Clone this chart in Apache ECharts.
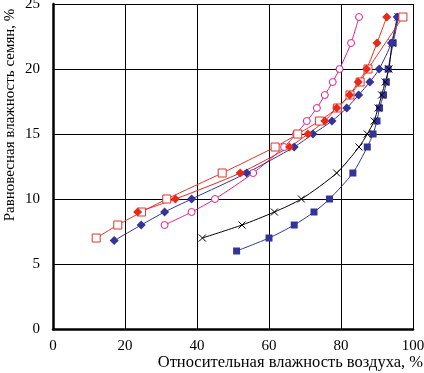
<!DOCTYPE html>
<html>
<head>
<meta charset="utf-8">
<script src="https://cdn.jsdelivr.net/npm/echarts@6/dist/echarts.min.js"></script>
<style>
  html, body { margin: 0; padding: 0; background: #fff; }
  #chart { width: 424px; height: 373px; }
</style>
</head>
<body>
<div id="chart"></div>
<script>
// значения
var redSqX = [12, 18, 24.6, 31.6, 47, 61.7, 68, 74, 79, 82.5, 85.3, 87.5, 97.2]
var redSqY = [7, 8, 9, 10, 12, 14, 15, 16, 17, 18, 19, 20, 24]
var redDiaX = [23.5, 34, 52, 65.7, 70.8, 75.5, 78.8, 82.4, 84.8, 87.1, 90, 92.7]
var redDiaY = [9, 10, 12, 14, 15, 16, 17, 18, 19, 20, 22, 24]
var blueDiaX = [17, 24.5, 31, 38.5, 53.8, 67, 72.2, 77.5, 81.6, 84.9, 88, 90.6, 94, 95.6]
var blueDiaY = [6.8, 8, 9, 10, 12, 14, 15, 16, 17, 18, 19, 20, 22, 24]
var magCircX = [31, 38.5, 45, 55.6, 64.2, 67.5, 70.5, 73.3, 75.5, 77.7, 79.6, 82.8, 85]
var magCircY = [8, 9, 10, 12, 14, 15, 16, 17, 18, 19, 20, 22, 24]
var blackXX = [41.5, 52.5, 61.5, 69, 78.8, 85, 87.3, 89.2, 90.3, 91.3, 92.3, 93.3, 94.2, 95.8]
var blackXY = [7, 8, 9, 10, 12, 14, 15, 16, 17, 18, 19, 20, 22, 24]
var blueSqX = [51, 60, 67, 72.5, 76.8, 83.3, 87.3, 88.9, 90, 90.7, 91.8, 92.6, 93.1, 94.5, 96]
var blueSqY = [6, 7, 8, 9, 10, 12, 14, 15, 16, 17, 18, 19, 20, 22, 24]

var xTicks = [0, 20, 40, 60, 80, 100]
var yTicks = [0, 5, 10, 15, 20, 25]
var xTitle = 'Относительная влажность воздуха, %'
var yTitle = 'Равновесная влажность семян, %'

var FONT = 'Times New Roman, Liberation Serif, DejaVu Serif, serif'

function pairs(xs, ys) {
  return xs.map(function (x, i) { return [x, ys[i]] })
}

function line(name, xs, ys, color, symbol, size, filled) {
  return {
    name: name,
    type: 'line',
    smooth: 0.25,
    symbol: symbol,
    symbolSize: size,
    showAllSymbol: true,
    lineStyle: { width: 1, color: color },
    itemStyle: {
      color: filled ? color : '#fff',
      borderColor: color,
      borderWidth: filled ? 0 : 1,
    },
    data: pairs(xs, ys),
  }
}

var chart = echarts.init(document.getElementById('chart'))
chart.setOption({
  backgroundColor: '#fff',
  animation: false,
  grid: { left: 53, right: 11, top: 4, bottom: 44, outerBoundsMode: 'none', containLabel: false },
  xAxis: {
    type: 'value',
    min: xTicks[0],
    max: xTicks[xTicks.length - 1],
    interval: 20,
    axisLine: { lineStyle: { color: '#000', width: 2.5 } },
    axisTick: { show: false },
    axisLabel: { color: '#000', fontFamily: FONT, fontSize: 15, margin: 10 },
    splitLine: { show: true, lineStyle: { color: '#000', width: 1 } },
  },
  yAxis: {
    type: 'value',
    min: yTicks[0],
    max: yTicks[yTicks.length - 1],
    interval: 5,
    axisLine: { lineStyle: { color: '#000', width: 2.5 } },
    axisTick: { show: false },
    axisLabel: { color: '#000', fontFamily: FONT, fontSize: 15, margin: 13 },
    splitLine: { show: true, lineStyle: { color: '#000', width: 1 } },
  },
  graphic: [
    {
      type: 'text',
      right: 1,
      top: 354,
      style: { text: xTitle, fill: '#000', fontFamily: FONT, fontSize: 16.5 },
    },
    {
      type: 'text',
      x: 10,
      y: 115,
      rotation: Math.PI / 2,
      style: {
        text: yTitle,
        fill: '#000',
        fontFamily: FONT,
        fontSize: 15,
        align: 'center',
        verticalAlign: 'middle',
      },
    },
  ],
  series: [
    line('blueSq', blueSqX, blueSqY, '#333399', 'rect', 7, true),
    {
      name: 'blackX',
      type: 'line',
      smooth: 0.25,
      symbol: 'path://M0,0L10,10M10,0L0,10',
      symbolSize: 7,
      showAllSymbol: true,
      lineStyle: { width: 1, color: '#000' },
      itemStyle: { color: 'none', borderColor: '#000', borderWidth: 1 },
      data: pairs(blackXX, blackXY),
    },
    line('magCirc', magCircX, magCircY, '#e0208a', 'circle', 7, false),
    line('blueDia', blueDiaX, blueDiaY, '#333399', 'diamond', 9, true),
    line('redSq', redSqX, redSqY, '#e0352b', 'rect', 8, false),
    line('redDia', redDiaX, redDiaY, '#e82a1a', 'diamond', 9, true),
  ],
})
</script>
</body>
</html>
